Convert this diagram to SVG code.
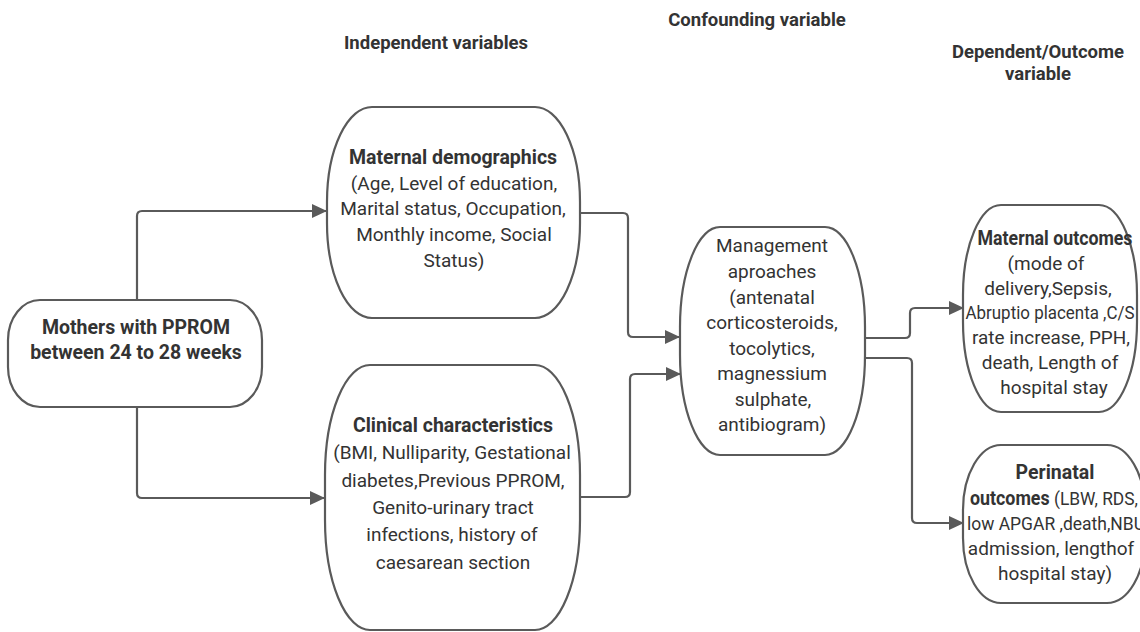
<svg xmlns="http://www.w3.org/2000/svg" width="1140" height="632" viewBox="0 0 1140 632">
<style>
.box{fill:#fff;stroke:#5a5a5a;stroke-width:2.2}
.t{font-family:"Roboto","Liberation Sans",sans-serif;font-size:19px;fill:#333;text-anchor:middle}
.b{font-weight:bold;font-size:19.5px}
.s{text-anchor:start}
.h{font-family:"Roboto","Liberation Sans",sans-serif;font-size:18.5px;font-weight:bold;fill:#333;text-anchor:middle}
.c{fill:none;stroke:#5a5a5a;stroke-width:2.2}
</style>
<defs>
<marker id="ah" markerUnits="userSpaceOnUse" markerWidth="16" markerHeight="14" refX="15" refY="7" orient="auto">
<path d="M0,0 L15,7 L0,14 z" fill="#5a5a5a"/>
</marker>
</defs>
<rect width="1140" height="632" fill="#fff"/>
<g id="headers">
<text class="h" x="436" y="49">Independent variables</text>
<text class="h" x="757" y="26">Confounding variable</text>
<text class="h" x="1038" y="58">Dependent/Outcome</text>
<text class="h" x="1038" y="80">variable</text>
</g>
<g id="connectors">
<path class="c" d="M137,300 V216 Q137,211 142,211 H327" marker-end="url(#ah)"/>
<path class="c" d="M137,407 V493 Q137,498 142,498 H325" marker-end="url(#ah)"/>
<path class="c" d="M580,213 H623 Q628,213 628,218 V332 Q628,337 633,337 H680" marker-end="url(#ah)"/>
<path class="c" d="M579,497 H625 Q630,497 630,492 V379 Q630,374 635,374 H681" marker-end="url(#ah)"/>
<path class="c" d="M865,338 H905 Q910,338 910,333 V313 Q910,308 915,308 H964" marker-end="url(#ah)"/>
<path class="c" d="M866,358 H907 Q912,358 912,363 V518 Q912,523 917,523 H964" marker-end="url(#ah)"/>
</g>
<g id="mothers">
<rect class="box" x="8" y="300" width="254" height="107" rx="32" ry="40"/>
<text class="t b" x="136" y="334">Mothers with PPROM</text>
<text class="t b" x="136" y="359">between 24 to 28 weeks</text>
</g>
<g id="demographics">
<rect class="box" x="327" y="107" width="253" height="211" rx="45" ry="95"/>
<text class="t b" x="453" y="164">Maternal demographics</text>
<text class="t" x="454" y="190">(Age, Level of education,</text>
<text class="t" x="453" y="215">Marital status, Occupation,</text>
<text class="t" x="454" y="241">Monthly income, Social</text>
<text class="t" x="454" y="267">Status)</text>
</g>
<g id="clinical">
<rect class="box" x="325" y="365" width="255" height="265" rx="45" ry="110"/>
<text class="t b" x="453" y="432">Clinical characteristics</text>
<text class="t" x="452" y="459">(BMI, Nulliparity, Gestational</text>
<text class="t" x="453" y="487">diabetes,Previous PPROM,</text>
<text class="t" x="453" y="514">Genito-urinary tract</text>
<text class="t" x="452" y="541">infections, history of</text>
<text class="t" x="453" y="569">caesarean section</text>
</g>
<g id="management">
<rect class="box" x="680" y="227" width="185" height="228" rx="40" ry="100"/>
<text class="t" x="772" y="252">Management</text>
<text class="t" x="772" y="278">aproaches</text>
<text class="t" x="772" y="304">(antenatal</text>
<text class="t" x="772" y="329">corticosteroids,</text>
<text class="t" x="772" y="355">tocolytics,</text>
<text class="t" x="772" y="380">magnessium</text>
<text class="t" x="773" y="406">sulphate,</text>
<text class="t" x="772" y="431">antibiogram)</text>
</g>
<g id="maternal-outcomes">
<rect class="box" x="963" y="205" width="174" height="207" rx="38" ry="90"/>
<text class="t b" x="1055" y="245" textLength="155" lengthAdjust="spacingAndGlyphs">Maternal outcomes</text>
<text class="t" x="1046" y="270">(mode of</text>
<text class="t" x="1048" y="295">delivery,Sepsis,</text>
<text class="t" x="1050" y="319" textLength="169" lengthAdjust="spacingAndGlyphs">Abruptio placenta ,C/S</text>
<text class="t" x="1051" y="344" textLength="158" lengthAdjust="spacingAndGlyphs">rate increase, PPH,</text>
<text class="t" x="1050" y="369">death, Length of</text>
<text class="t" x="1054" y="394">hospital stay</text>
</g>
<g id="perinatal-outcomes">
<rect class="box" x="963" y="445" width="182" height="158" rx="38" ry="65"/>
<text class="t b" x="1055" y="479">Perinatal</text>
<text class="t s" x="970" y="505" textLength="168" lengthAdjust="spacingAndGlyphs"><tspan class="b">outcomes</tspan> (LBW, RDS,</text>
<text class="t s" x="967" y="530" textLength="178" lengthAdjust="spacingAndGlyphs">low APGAR ,death,NBU</text>
<text class="t" x="1051" y="555">admission, lengthof</text>
<text class="t" x="1055" y="580">hospital stay)</text>
</g>
</svg>
